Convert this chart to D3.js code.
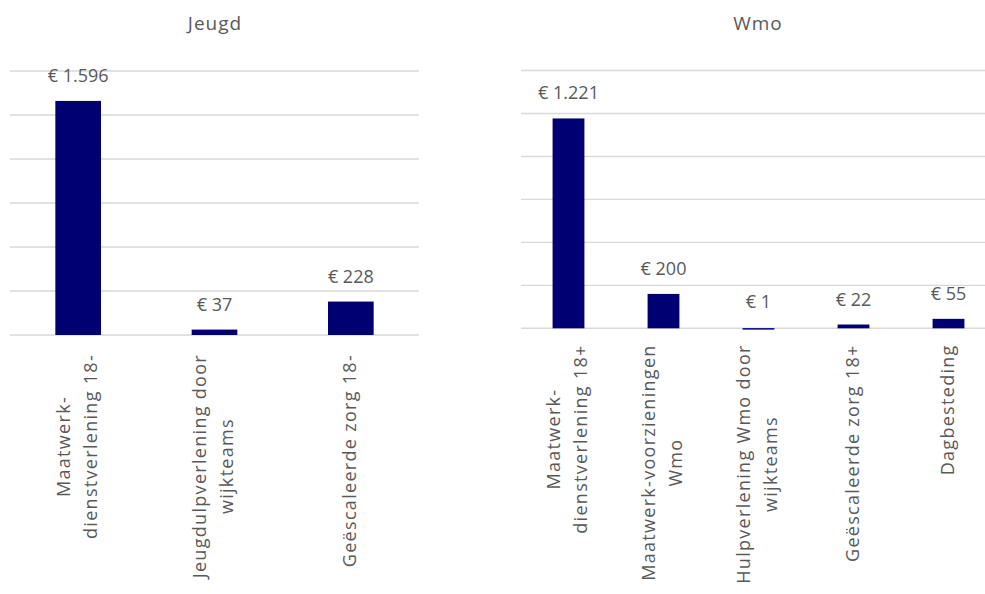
<!DOCTYPE html>
<html>
<head>
<meta charset="utf-8">
<script src="https://cdn.jsdelivr.net/npm/d3@7"></script>
<style>
	body { margin: 0; background: #fff; }
	text { font-family: "Open Sans", "Noto Sans", sans-serif; fill: #595959; }
</style>
</head>
<body>
<div id="chart"></div>
<script>
var jeugdCategories = [
	['Maatwerk-', 'dienstverlening 18-'],
	['Jeugdulpverlening door', 'wijkteams'],
	['Geëscaleerde zorg 18-']
]
var jeugdValues = [1596, 37, 228]
var jeugdTicks = [0, 300, 600, 900, 1200, 1500, 1800]

var wmoCategories = [
	['Maatwerk-', 'dienstverlening 18+'],
	['Maatwerk-voorzieningen', 'Wmo'],
	['Hulpverlening Wmo door', 'wijkteams'],
	['Geëscaleerde zorg 18+'],
	['Dagbesteding']
]
var wmoValues = [1221, 200, 1, 22, 55]
var wmoTicks = [0, 250, 500, 750, 1000, 1250, 1500]

var fmt = function (v) {
	return '€ ' + d3.format(',')(v).replace(/,/g, '.')
}

var svg = d3.select('#chart').append('svg')
	.attr('width', 985)
	.attr('height', 594)

function panel(opt) {
	var g = svg.append('g')

	var x = d3.scaleBand()
		.domain(d3.range(opt.values.length))
		.range([opt.left, opt.right])
		.paddingInner(0.665)
		.paddingOuter(0.3325)

	var y = d3.scaleLinear()
		.domain([0, d3.max(opt.ticks)])
		.range([opt.bottom, opt.top])

	/* title */
	g.append('text')
		.attr('x', opt.titleX)
		.attr('y', 30)
		.attr('text-anchor', 'middle')
		.style('font-size', '19px')
		.style('letter-spacing', '1px')
		.text(opt.title)

	/* gridlines */
	g.selectAll('.grid')
		.data(opt.ticks)
		.enter().append('line')
		.attr('x1', opt.left)
		.attr('x2', opt.right)
		.attr('y1', function (d) { return y(d) })
		.attr('y2', function (d) { return y(d) })
		.attr('stroke', '#d9d9d9')
		.attr('stroke-width', 1.4)

	/* bars */
	g.selectAll('.bar')
		.data(opt.values)
		.enter().append('rect')
		.attr('x', function (d, i) { return x(i) })
		.attr('y', function (d) { return y(d) })
		.attr('width', x.bandwidth())
		.attr('height', function (d) { return Math.max(1.5, opt.bottom - y(d)) })
		.attr('fill', '#000072')

	/* value labels */
	g.selectAll('.val')
		.data(opt.values)
		.enter().append('text')
		.attr('x', function (d, i) { return x(i) + x.bandwidth() / 2 })
		.attr('y', function (d) { return Math.min(y(d), opt.bottom - 1.5) - 19 })
		.attr('text-anchor', 'middle')
		.style('font-size', '18px')
		.text(fmt)

	/* rotated category labels */
	var lineH = 27
	opt.categories.forEach(function (lines, i) {
		var cx = x(i) + x.bandwidth() / 2
		var t = g.append('text')
			.attr('transform', 'translate(' + cx + ',' + (opt.bottom + opt.labelGap) + ') rotate(-90)')
			.attr('text-anchor', 'end')
			.style('font-size', '18px')
			.style('letter-spacing', '1.3px')
		var spans = lines.map(function (s, k) {
			return t.append('tspan')
				.attr('y', (k - (lines.length - 1) / 2) * lineH)
				.attr('dy', '0.3em')
				.text(s)
		})
		var lens = spans.map(function (s) { return s.node().getComputedTextLength() })
		var maxLen = d3.max(lens)
		spans.forEach(function (s, k) {
			s.attr('x', -(maxLen - lens[k]) / 2)
		})
	})
}

panel({
	title: 'Jeugd', titleX: 215,
	categories: jeugdCategories, values: jeugdValues, ticks: jeugdTicks,
	left: 10, right: 419, top: 71, bottom: 335, labelGap: 19
})

panel({
	title: 'Wmo', titleX: 758,
	categories: wmoCategories, values: wmoValues, ticks: wmoTicks,
	left: 521, right: 996, top: 70.5, bottom: 328.3, labelGap: 16
})
</script>
</body>
</html>
